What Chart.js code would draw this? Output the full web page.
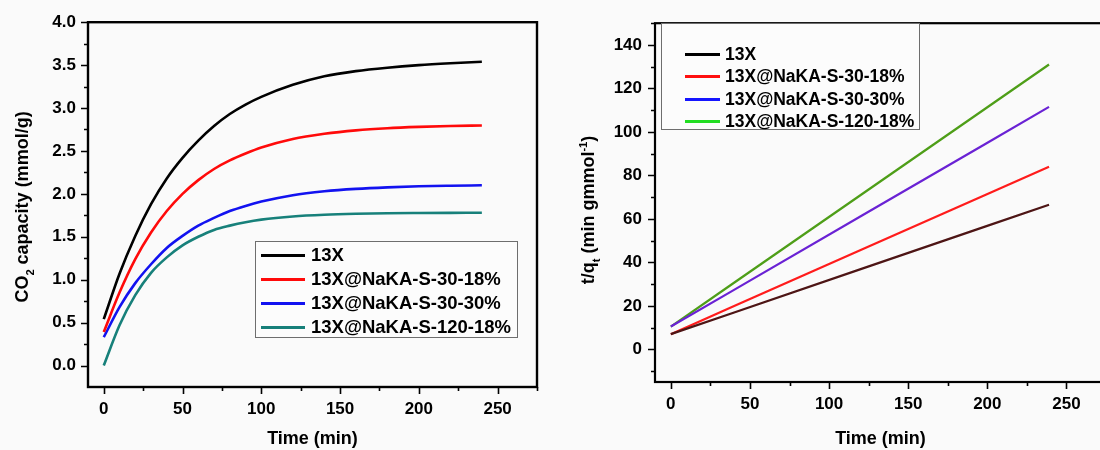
<!DOCTYPE html>
<html>
<head>
<meta charset="utf-8">
<title>CO2 adsorption kinetics</title>
<script src="https://cdn.jsdelivr.net/npm/chart.js@4.4.0/dist/chart.umd.min.js"></script>
<style>
    html, body { margin: 0; padding: 0; background: #fafafa; overflow: hidden; }
    #wrap { position: relative; width: 1100px; height: 450px; overflow: hidden; }
    .panel { position: absolute; top: 0; height: 450px; }
    #left-panel { left: 0; width: 550px; }
    #right-panel { left: 550px; width: 560px; }
    .legend {
        position: absolute;
        box-sizing: border-box;
        border: 1px solid #6e6e6e;
        background: #fcfcfc;
        font-family: "Liberation Sans", Arial, sans-serif;
        font-weight: bold;
        color: #000;
    }
    .legend .row { position: absolute; display: flex; align-items: center; white-space: nowrap; }
    .legend .swatch { display: inline-block; height: 3px; }
</style>
</head>
<body>
<div id="wrap">
    <div class="panel" id="left-panel"><canvas id="capacity-chart" width="550" height="450"></canvas></div>
    <div class="panel" id="right-panel"><canvas id="linear-chart" width="560" height="450"></canvas></div>
    <div class="legend" id="capacity-legend"></div>
    <div class="legend" id="linear-legend"></div>
</div>

<script>
// Adsorbent names (same order in both panels)
const sampleNames = ['13X', '13X@NaKA-S-30-18%', '13X@NaKA-S-30-30%', '13X@NaKA-S-120-18%'];

// Left panel: CO2 uptake vs. time (min, mmol/g)
const uptakeTime = [0, 10, 20, 30, 40, 50, 60, 70, 80, 90, 100, 120, 140, 160, 180, 200, 220, 240];
const uptake13X = [0.54, 1.07, 1.51, 1.88, 2.18, 2.42, 2.62, 2.79, 2.93, 3.04, 3.13, 3.27, 3.37, 3.43, 3.47, 3.50, 3.522, 3.54];
const uptakeS30_18 = [0.39, 0.85, 1.24, 1.55, 1.80, 2.00, 2.16, 2.29, 2.39, 2.47, 2.54, 2.64, 2.70, 2.74, 2.765, 2.78, 2.79, 2.797];
const uptakeS30_30 = [0.33, 0.68, 0.96, 1.18, 1.37, 1.51, 1.63, 1.72, 1.80, 1.86, 1.91, 1.985, 2.03, 2.058, 2.076, 2.088, 2.095, 2.10];
const uptakeS120_18 = [0.00, 0.47, 0.82, 1.08, 1.26, 1.40, 1.50, 1.58, 1.63, 1.67, 1.70, 1.737, 1.757, 1.768, 1.774, 1.777, 1.779, 1.78];

// Right panel: pseudo-second-order plot t/qt vs. time
const fitTime = [0, 120, 239];
const fit13X = [7.0, 36.9, 66.5];
const fitS30_18 = [7.0, 45.7, 84.0];
const fitS30_30 = [10.5, 61.2, 111.5];
const fitS120_18 = [10.5, 71.0, 131.0];

// Tick labels
const timeTicks = [0, 50, 100, 150, 200, 250];
const uptakeTicks = [0.0, 0.5, 1.0, 1.5, 2.0, 2.5, 3.0, 3.5, 4.0];
const fitTicks = [0, 20, 40, 60, 80, 100, 120, 140];

// Colours
const uptakeColors = ['#000000', '#ff0a0a', '#1212f0', '#17807a'];
const fitColors = ['#4d1515', '#ff1c1c', '#6a22d4', '#4e9e18'];
const fitLegendColors = ['#000000', '#ff1010', '#1515ff', '#22dd22'];

const FONT = '"Liberation Sans", Arial, sans-serif';

Chart.defaults.font.family = FONT;
Chart.defaults.font.weight = 'bold';
Chart.defaults.color = '#000';
Chart.defaults.animation = false;

function toPoints(xs, ys) {
    return xs.map((x, i) => ({ x: x, y: ys[i] }));
}

/**
 * Draws the boxed frame, major/minor tick marks and the rotated y title
 */
const framePlugin = {
    id: 'frame',
    afterDraw(chart, args, opts) {
        const { ctx, chartArea: a, scales } = chart;
        ctx.save();
        ctx.strokeStyle = '#000';
        ctx.lineWidth = opts.lineWidth;
        ctx.strokeRect(a.left, a.top, a.right - a.left, a.bottom - a.top);

        ctx.lineWidth = 1.6;
        ctx.beginPath();
        const xs = scales.x;
        for (let v = Math.ceil(xs.min / opts.xMinor) * opts.xMinor; v <= xs.max + 1e-9; v += opts.xMinor) {
            const px = Math.round(xs.getPixelForValue(v)) + 0.5;
            const major = Math.abs(v / opts.xMajor - Math.round(v / opts.xMajor)) < 1e-6;
            ctx.moveTo(px, a.bottom);
            ctx.lineTo(px, a.bottom + (major ? 7 : 4));
        }
        const ys = scales.y;
        for (let v = Math.ceil(ys.min / opts.yMinor - 1e-9) * opts.yMinor; v <= ys.max + 1e-9; v += opts.yMinor) {
            const py = Math.round(ys.getPixelForValue(v)) + 0.5;
            if (py > a.bottom - 1) continue;
            const major = Math.abs(v / opts.yMajor - Math.round(v / opts.yMajor)) < 1e-6;
            ctx.moveTo(a.left, py);
            ctx.lineTo(a.left - (major ? 7 : 4), py);
        }
        ctx.stroke();

        drawVerticalTitle(ctx, opts.titleX, opts.titleY, opts.title, 18);
        ctx.restore();
    }
};

// Rotated axis title with sub/superscript parts
function drawVerticalTitle(ctx, cx, cy, parts, size) {
    ctx.save();
    ctx.translate(cx, cy);
    ctx.rotate(-Math.PI / 2);
    ctx.fillStyle = '#000';
    ctx.textBaseline = 'alphabetic';
    const fontOf = p => 'bold ' + (p.kind ? size * 0.62 : size) + 'px ' + FONT;
    const widths = parts.map(p => { ctx.font = fontOf(p); return ctx.measureText(p.text).width; });
    const total = widths.reduce((s, w) => s + w, 0);
    let x = -total / 2;
    const base = size * 0.36;
    parts.forEach((p, i) => {
        ctx.font = fontOf(p);
        let dy = 0;
        if (p.kind === 'sub') dy = size * 0.28;
        if (p.kind === 'sup') dy = -size * 0.42;
        ctx.fillText(p.text, x, base + dy);
        x += widths[i];
    });
    ctx.restore();
}

function keepTicks(values) {
    return scale => {
        scale.ticks = values.map(v => ({ value: v }));
    };
}

function buildChart(canvasId, o) {
    const datasets = o.series.map((ys, i) => ({
        label: sampleNames[i],
        data: toPoints(o.time, ys),
        borderColor: o.colors[i],
        borderWidth: o.lineWidth,
        pointRadius: 0,
        cubicInterpolationMode: 'monotone',
        fill: false
    }));
    return new Chart(document.getElementById(canvasId), {
        type: 'line',
        data: { datasets: datasets },
        plugins: [framePlugin],
        options: {
            responsive: false,
            layout: { padding: o.padding },
            plugins: {
                legend: { display: false },
                tooltip: { enabled: false },
                frame: o.frame
            },
            scales: {
                x: {
                    type: 'linear',
                    min: o.xMin,
                    max: o.xMax,
                    grid: { display: false, drawTicks: false },
                    border: { display: false },
                    afterBuildTicks: keepTicks(timeTicks),
                    ticks: { padding: 12, font: { size: 17, weight: 'bold' }, maxRotation: 0 },
                    title: { display: true, text: 'Time (min)', font: { size: 18, weight: 'bold' }, padding: 0 },
                    afterFit: s => { s.height = o.xHeight; }
                },
                y: {
                    type: 'linear',
                    min: o.yMin,
                    max: o.yMax,
                    grid: { display: false, drawTicks: false },
                    border: { display: false },
                    afterBuildTicks: keepTicks(o.yTicks),
                    ticks: { padding: o.yPad, font: { size: 17, weight: 'bold' }, callback: o.yFormat },
                    afterFit: s => { s.width = o.yWidth; }
                }
            }
        }
    });
}

function buildLegend(id, box, colors, o) {
    const el = document.getElementById(id);
    Object.assign(el.style, {
        left: box.left + 'px', top: box.top + 'px',
        width: box.width + 'px', height: box.height + 'px',
        fontSize: o.fontSize + 'px'
    });
    sampleNames.forEach((name, i) => {
        const row = document.createElement('div');
        row.className = 'row';
        row.style.left = o.swatchLeft + 'px';
        row.style.top = (o.firstRow + i * o.rowGap - 12) + 'px';
        row.style.height = '24px';
        const sw = document.createElement('span');
        sw.className = 'swatch';
        sw.style.width = o.swatchWidth + 'px';
        sw.style.background = colors[i];
        sw.style.marginRight = o.gap + 'px';
        const label = document.createElement('span');
        label.textContent = name;
        row.appendChild(sw);
        row.appendChild(label);
        el.appendChild(row);
    });
}

document.addEventListener('DOMContentLoaded', () => {
    buildChart('capacity-chart', {
        time: uptakeTime,
        series: [uptake13X, uptakeS30_18, uptakeS30_30, uptakeS120_18],
        colors: uptakeColors,
        lineWidth: 2.6,
        padding: { top: 21, right: 13, bottom: 0, left: 0 },
        xMin: -10, xMax: 275, xHeight: 63,
        yMin: -0.25, yMax: 4.0, yWidth: 88, yPad: 12,
        yTicks: uptakeTicks,
        yFormat: v => v.toFixed(1),
        frame: {
            lineWidth: 2.4, xMinor: 25, xMajor: 50, yMinor: 0.25, yMajor: 0.5,
            titleX: 22, titleY: 207,
            title: [{ text: 'CO' }, { text: '2', kind: 'sub' }, { text: ' capacity (mmol/g)' }]
        }
    });

    buildChart('linear-chart', {
        time: fitTime,
        series: [fit13X, fitS30_18, fitS30_30, fitS120_18],
        colors: fitColors,
        lineWidth: 2.2,
        padding: { top: 13, right: 4, bottom: 0, left: 0 },
        xMin: -10, xMax: 275, xHeight: 68,
        yMin: -15, yMax: 150, yWidth: 105, yPad: 13,
        yTicks: fitTicks,
        yFormat: v => String(v),
        frame: {
            lineWidth: 2.2, xMinor: 25, xMajor: 50, yMinor: 10, yMajor: 20,
            titleX: 38, titleY: 210,
            title: [{ text: 't/q' }, { text: 't', kind: 'sub' }, { text: ' (min gmmol' }, { text: '-1', kind: 'sup' }, { text: ')' }]
        }
    });

    buildLegend('capacity-legend', { left: 255, top: 241, width: 263, height: 97 }, uptakeColors,
        { fontSize: 18.5, swatchLeft: 5, swatchWidth: 44, gap: 6, firstRow: 13, rowGap: 24 });
    buildLegend('linear-legend', { left: 661, top: 23, width: 259, height: 107 }, fitLegendColors,
        { fontSize: 17.5, swatchLeft: 23, swatchWidth: 35, gap: 5, firstRow: 30.5, rowGap: 22.3 });
});
</script>
</body>
</html>
